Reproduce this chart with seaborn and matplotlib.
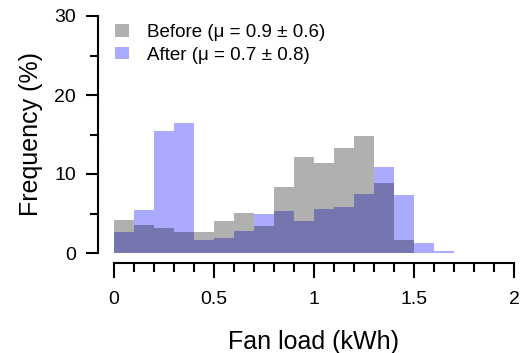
import matplotlib
matplotlib.use("Agg")
import matplotlib.pyplot as plt
import seaborn as sns
import numpy as np
from matplotlib.ticker import MultipleLocator

bin_centers = [0.05, 0.15, 0.25, 0.35, 0.45, 0.55, 0.65, 0.75, 0.85, 0.95,
               1.05, 1.15, 1.25, 1.35, 1.45, 1.55, 1.65, 1.75, 1.85, 1.95]
bin_edges = [0.0, 0.1, 0.2, 0.3, 0.4, 0.5, 0.6, 0.7, 0.8, 0.9, 1.0,
             1.1, 1.2, 1.3, 1.4, 1.5, 1.6, 1.7, 1.8, 1.9, 2.0]
before_pct = [4.2, 3.5, 3.2, 2.7, 2.7, 4.1, 5.1, 3.4, 8.3, 12.1,
              11.4, 13.3, 14.8, 8.8, 1.6, 0.0, 0.0, 0.0, 0.0, 0.0]
after_pct = [2.7, 5.4, 15.4, 16.4, 1.7, 1.9, 2.8, 4.9, 5.3, 4.0,
             5.6, 5.8, 7.5, 10.9, 7.3, 1.3, 0.25, 0.05, 0.05, 0.05]
before_label = "Before (\u03bc = 0.9 \u00b1 0.6)"
after_label = "After (\u03bc = 0.7 \u00b1 0.8)"
x_ticks = [0, 0.5, 1, 1.5, 2]
x_tick_labels = ["0", "0.5", "1", "1.5", "2"]
y_ticks = [0, 10, 20, 30]

sns.set_style("ticks")
plt.rcParams['font.family'] = ['Liberation Sans', 'DejaVu Sans']
plt.rcParams['text.color'] = 'black'
plt.rcParams['axes.labelcolor'] = 'black'

fig = plt.figure(figsize=(5.22, 3.53), dpi=100)
ax = fig.add_axes([114/522, 100/353, 400/522, 237/353])

sns.histplot(x=bin_centers, weights=after_pct, bins=bin_edges, stat="count",
             color=(0, 0, 1), alpha=0.333, linewidth=0, ax=ax, label=after_label)
sns.histplot(x=bin_centers, weights=before_pct, bins=bin_edges, stat="count",
             color=(0, 0, 0), alpha=0.31, linewidth=0, ax=ax, label=before_label)

ax.set_xlim(0, 2)
ax.set_ylim(0, 30)
ax.set_xticks(x_ticks)
ax.set_xticklabels(x_tick_labels)
ax.set_yticks(y_ticks)
ax.xaxis.set_minor_locator(MultipleLocator(0.1))
ax.yaxis.set_minor_locator(MultipleLocator(5))

for s in ["top", "right"]:
    ax.spines[s].set_visible(False)
ax.spines["left"].set_position(("outward", 11.5))
ax.spines["bottom"].set_position(("outward", 7.5))
for s in ["left", "bottom"]:
    ax.spines[s].set_linewidth(1.5)
    ax.spines[s].set_color("black")

ax.tick_params(axis="both", which="major", direction="out", width=1.5,
               color="black", labelsize=14, labelcolor="black")
ax.tick_params(axis="x", which="major", length=10.5, pad=9)
ax.tick_params(axis="x", which="minor", length=6.5, width=1.5, color="black")
ax.tick_params(axis="y", which="major", length=9, pad=7)
ax.tick_params(axis="y", which="minor", length=6, width=1.5, color="black")

ax.set_xlabel("Fan load (kWh)", fontsize=18, labelpad=16, color="black")
ax.set_ylabel("Frequency (%)", fontsize=18, labelpad=8, color="black")

handles, labels = ax.get_legend_handles_labels()
order = [labels.index(before_label), labels.index(after_label)]
ax.legend([handles[i] for i in order], [labels[i] for i in order],
          loc="upper left", bbox_to_anchor=(0.0, 0.97), frameon=False,
          fontsize=13.5, handlelength=0.75, handleheight=0.65,
          handletextpad=0.95, labelspacing=0.3, borderaxespad=0.0,
          borderpad=0.05)

fig.savefig("out.png", dpi=100)
